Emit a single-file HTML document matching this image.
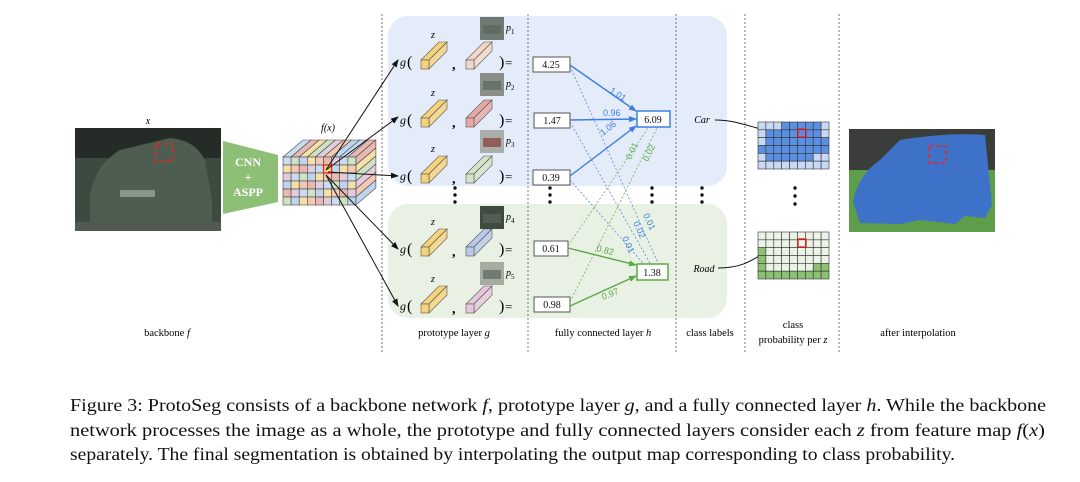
<!DOCTYPE html>
<html><head><meta charset="utf-8"><style>
html,body{margin:0;padding:0;background:#fff;}
svg{display:block;font-family:"Liberation Serif",serif;}
</style></head><body>
<svg id="s" width="1080" height="482" viewBox="0 0 1080 482" xmlns="http://www.w3.org/2000/svg">
<defs>
<marker id="ak" markerWidth="8" markerHeight="8" refX="7" refY="4" orient="auto" markerUnits="userSpaceOnUse"><path d="M0,1 L8,4 L0,7 z" fill="#111"/></marker>
<marker id="ab" markerWidth="8" markerHeight="8" refX="7" refY="4" orient="auto" markerUnits="userSpaceOnUse"><path d="M0,1 L8,4 L0,7 z" fill="#3f7ee0"/></marker>
<marker id="ag" markerWidth="8" markerHeight="8" refX="7" refY="4" orient="auto" markerUnits="userSpaceOnUse"><path d="M0,1 L8,4 L0,7 z" fill="#5ca845"/></marker>
</defs>
<!-- panels -->
<rect x="388" y="16" width="339" height="170" rx="20" fill="#e3ecf8"/>
<rect x="388" y="204" width="339" height="114" rx="20" fill="#e8f1e4"/>
<!-- dashed separators -->
<g stroke="#555" stroke-width="0.8" stroke-dasharray="2,2">
<line x1="382" y1="14" x2="382" y2="352"/><line x1="528" y1="14" x2="528" y2="352"/>
<line x1="676" y1="14" x2="676" y2="352"/><line x1="745" y1="14" x2="745" y2="352"/>
<line x1="839" y1="14" x2="839" y2="352"/>
</g>
<!-- input image -->
<text x="148" y="124" font-size="10" font-style="italic" text-anchor="middle">x</text>
<rect x="75" y="128" width="146" height="103" fill="#3d4a3f"/>
<rect x="75" y="128" width="146" height="30" fill="#252b26"/>
<path d="M90,195 Q95,165 120,150 L170,138 Q195,140 205,160 L212,200 L212,222 L90,222 z" fill="#4e5d50"/>
<rect x="120" y="190" width="35" height="7" fill="#8a968b"/>
<rect x="75" y="222" width="146" height="9" fill="#505a50"/>
<rect x="156" y="144" width="17" height="17" fill="none" stroke="#e22" stroke-width="1.5" stroke-dasharray="4,3"/>
<!-- CNN trapezoid -->
<polygon points="223,141 278,155 278,202 223,214" fill="#8dbf76"/>
<text x="248" y="166" font-size="12" font-weight="bold" fill="#fff" text-anchor="middle">CNN</text>
<text x="248" y="181" font-size="12" font-weight="bold" fill="#fff" text-anchor="middle">+</text>
<text x="248" y="196" font-size="12" font-weight="bold" fill="#fff" text-anchor="middle">ASPP</text>
<text x="328" y="131" font-size="10" font-style="italic" text-anchor="middle">f(x)</text>
<g id="cube"></g>
<!-- arrows from cube -->
<g stroke="#111" stroke-width="1" fill="none" marker-end="url(#ak)">
<line x1="326" y1="170" x2="398" y2="60"/><line x1="326" y1="170" x2="398" y2="117"/>
<line x1="328" y1="172" x2="398" y2="176"/><line x1="326" y1="175" x2="398" y2="249"/>
<line x1="326" y1="175" x2="398" y2="306"/>
</g>
<g id="proto"></g>
<!-- vertical dots -->
<g fill="#111" id="dots"></g>
<!-- FC boxes -->
<g font-size="10" text-anchor="middle" fill="#111">
<rect x="533" y="57" width="37" height="15" fill="#fff" stroke="#555"/><text x="551" y="68">4.25</text>
<rect x="534" y="113" width="36" height="15" fill="#fff" stroke="#555"/><text x="552" y="124">1.47</text>
<rect x="533" y="170" width="37" height="15" fill="#fff" stroke="#555"/><text x="551" y="181">0.39</text>
<rect x="534" y="241" width="34" height="15" fill="#fff" stroke="#555"/><text x="551" y="252">0.61</text>
<rect x="534" y="297" width="36" height="15" fill="#fff" stroke="#555"/><text x="552" y="308">0.98</text>
<rect x="637" y="111" width="33" height="16" fill="#fff" stroke="#3f7ee0" stroke-width="1.5"/><text x="653" y="123">6.09</text>
<rect x="637" y="264" width="31" height="16" fill="#fff" stroke="#5ca845" stroke-width="1.5"/><text x="652" y="276">1.38</text>
</g>
<!-- connections -->
<g stroke="#3f7ee0" stroke-width="1.4" fill="none" marker-end="url(#ab)">
<line x1="570" y1="65" x2="636" y2="111"/><line x1="570" y1="120" x2="636" y2="119"/><line x1="570" y1="176" x2="636" y2="126"/>
</g>
<g stroke="#3f7ee0" stroke-width="0.7" stroke-dasharray="2,2" fill="none">
<line x1="570" y1="66" x2="658" y2="263"/><line x1="570" y1="122" x2="650" y2="263"/><line x1="570" y1="180" x2="643" y2="263"/>
</g>
<g stroke="#5ca845" stroke-width="1.4" fill="none" marker-end="url(#ag)">
<line x1="568" y1="248" x2="636" y2="265"/><line x1="570" y1="306" x2="636" y2="276"/>
</g>
<g stroke="#5ca845" stroke-width="0.7" stroke-dasharray="2,2" fill="none">
<line x1="568" y1="246" x2="648" y2="128"/><line x1="570" y1="302" x2="657" y2="128"/>
</g>
<g font-size="9" font-family="Liberation Sans,sans-serif">
<text x="609" y="92" fill="#3f7ee0" transform="rotate(33 609 92)">1.01</text>
<text x="603" y="116" fill="#3f7ee0">0.96</text>
<text x="603" y="136" fill="#3f7ee0" transform="rotate(-38 603 136)">1.06</text>
<text x="631" y="160" fill="#5ca845" transform="rotate(-65 631 160)">0.01</text>
<text x="648" y="162" fill="#5ca845" transform="rotate(-65 648 162)">0.02</text>
<text x="622" y="238" fill="#3f7ee0" transform="rotate(65 622 238)">0.01</text>
<text x="633" y="223" fill="#3f7ee0" transform="rotate(65 633 223)">0.02</text>
<text x="643" y="215" fill="#3f7ee0" transform="rotate(65 643 215)">0.01</text>
<text x="596" y="251" fill="#5ca845" transform="rotate(14 596 251)">0.82</text>
<text x="603" y="300" fill="#5ca845" transform="rotate(-22 603 300)">0.97</text>
</g>
<!-- class labels -->
<text x="702" y="123" font-size="10" font-style="italic" text-anchor="middle">Car</text>
<text x="704" y="272" font-size="10" font-style="italic" text-anchor="middle">Road</text>
<path d="M715,120 C745,120 760,134 797,134" stroke="#111" fill="none" stroke-width="1" marker-end="url(#ak)"/>
<path d="M718,268 C760,268 760,244 797,243" stroke="#111" fill="none" stroke-width="1" marker-end="url(#ak)"/>
<g id="grids"></g>
<!-- output -->
<rect x="849" y="129" width="146" height="103" fill="#3a3d3a"/>
<rect x="849" y="170" width="146" height="62" fill="#5e9e4a"/>
<path d="M853,202 Q858,175 880,160 L900,140 Q950,132 985,135 L992,205 L985,218 L965,216 L955,224 L920,220 L900,224 L860,223 z" fill="#3d72c8"/>
<rect x="929" y="146" width="17" height="17" fill="none" stroke="#e22" stroke-width="1.5" stroke-dasharray="4,3"/>
<!-- bottom labels -->
<g font-size="10.5" text-anchor="middle">
<text x="167" y="336">backbone <tspan font-style="italic">f</tspan></text>
<text x="454" y="336">prototype layer <tspan font-style="italic">g</tspan></text>
<text x="603" y="336">fully connected layer <tspan font-style="italic">h</tspan></text>
<text x="710" y="336">class labels</text>
<text x="793" y="328">class</text>
<text x="793" y="343">probability per <tspan font-style="italic">z</tspan></text>
<text x="918" y="336">after interpolation</text>
</g>
<!-- caption -->
<g font-size="18" fill="#111">
<text x="70" y="411" textLength="976" lengthAdjust="spacingAndGlyphs">Figure 3: ProtoSeg consists of a backbone network <tspan font-style="italic">f</tspan>, prototype layer <tspan font-style="italic">g</tspan>, and a fully connected layer <tspan font-style="italic">h</tspan>. While the backbone</text>
<text x="70" y="436" textLength="975" lengthAdjust="spacingAndGlyphs">network processes the image as a whole, the prototype and fully connected layers consider each <tspan font-style="italic">z</tspan> from feature map <tspan font-style="italic">f</tspan>(<tspan font-style="italic">x</tspan>)</text>
<text x="70" y="460" textLength="885" lengthAdjust="spacingAndGlyphs">separately. The final segmentation is obtained by interpolating the output map corresponding to class probability.</text>
</g>
</svg>
<script>
var NS="http://www.w3.org/2000/svg";
function el(p,t,a,txt){var e=document.createElementNS(NS,t);for(var k in a)e.setAttribute(k,a[k]);if(txt)e.textContent=txt;p.appendChild(e);return e;}
var pal=["#c9dcf2","#e9b8b0","#f6e0a8","#cfe3c4","#e3cbe0","#f4c9b4","#bfd5ee"];
// cube
var c=document.getElementById("cube");
var fx=283,fy=157,cw=8.1,ch=8,d=20;
for(var i=0;i<9;i++){ // top
 el(c,"polygon",{points:[fx+i*cw,fy,fx+i*cw+d,fy-d*0.85,fx+(i+1)*cw+d,fy-d*0.85,fx+(i+1)*cw,fy].join(" ").replace(/(\S+) (\S+)/g,"$1,$2"),fill:pal[i%7],stroke:"#444","stroke-width":0.6});
}
for(var j=0;j<6;j++){ // side
 var sx=fx+9*cw;
 el(c,"polygon",{points:sx+","+(fy+j*ch)+" "+(sx+d)+","+(fy+j*ch-d*0.85)+" "+(sx+d)+","+(fy+(j+1)*ch-d*0.85)+" "+sx+","+(fy+(j+1)*ch),fill:pal[(j+1)%7],stroke:"#444","stroke-width":0.6});
}
for(var j=0;j<6;j++)for(var i=0;i<9;i++){
 el(c,"rect",{x:fx+i*cw,y:fy+j*ch,width:cw,height:ch,fill:pal[(i*3+j*2)%7],stroke:"#444","stroke-width":0.6});
}
el(c,"rect",{x:fx+5*cw,y:fy+1*ch,width:cw,height:ch,fill:"#f6d27a",stroke:"#e22","stroke-width":1.3});
// prototype rows
var p=document.getElementById("proto");
var rows=[62,120,176,249,306],cols=["#f2d8c8","#e6a9a3","#d6e3c9","#b8c9ec","#e7c7dc"];
var thumbs=[[480,17,"#6e7b72"],[480,73,"#8a8f8a"],[480,130,"#a9aeaa"],[480,206,"#3f4a40"],[480,262,"#a7aca2"]];
function bar(x,y,col){ // front face bottom-left at (x,y) top-left
 var w=8,h=9,dx=18,dy=-18;
 el(p,"polygon",{points:x+","+y+" "+(x+dx)+","+(y+dy)+" "+(x+w+dx)+","+(y+dy)+" "+(x+w)+","+y,fill:col,stroke:"#555","stroke-width":0.6,opacity:1});
 el(p,"polygon",{points:(x+w)+","+y+" "+(x+w+dx)+","+(y+dy)+" "+(x+w+dx)+","+(y+dy+h)+" "+(x+w)+","+(y+h),fill:col,stroke:"#555","stroke-width":0.6,"fill-opacity":0.8});
 el(p,"rect",{x:x,y:y,width:w,height:h,fill:col,stroke:"#555","stroke-width":0.6});
}
for(var r=0;r<5;r++){
 var y=rows[r];
 el(p,"text",{x:400,y:y+4,"font-size":12,"font-style":"italic"},"g");
 el(p,"text",{x:407,y:y+5,"font-size":16},"(");
 el(p,"text",{x:431,y:y-24,"font-size":10,"font-style":"italic"},"z");
 bar(421,y-2,"#f6d27a");
 el(p,"text",{x:452,y:y+7,"font-size":14,"font-weight":"bold"},",");
 bar(466,y-2,cols[r]);
 el(p,"text",{x:499,y:y+5,"font-size":16},")");
 el(p,"text",{x:505,y:y+5,"font-size":13},"=");
 var t=thumbs[r];
 el(p,"rect",{x:t[0],y:t[1],width:24,height:23,fill:t[2]});
 el(p,"rect",{x:t[0]+3,y:t[1]+8,width:18,height:9,fill:r==2?"#8a3a34":"#5a665c","fill-opacity":0.7});
 var tx=el(p,"text",{x:506,y:t[1]+14,"font-size":10,"font-style":"italic"},"p");
 el(tx,"tspan",{"font-size":7,"font-style":"normal",dy:3},String(r+1));
}
// dots
var dd=document.getElementById("dots");
[455,550,652,702,795].forEach(function(x){var ys=x==795?[188,196,204]:[188,195,202];ys.forEach(function(y){el(dd,"circle",{cx:x,cy:y,r:1.7});});});
// grids
var g=document.getElementById("grids");
function grid(x0,y0,fn){var w=71/9,h=47/6;for(var j=0;j<6;j++)for(var i=0;i<9;i++)el(g,"rect",{x:x0+i*w,y:y0+j*h,width:w,height:h,fill:fn(i,j),stroke:"#333","stroke-width":0.6});}
grid(758,122,function(i,j){var light=(j==0&&(i<3||i==8))||(j==1&&(i==0||i==8))||(j==2&&i==0)||j==5||(j==4&&(i<1||i>=7));return light?"#c8d9f5":"#5b8fe2";});
grid(758,232,function(i,j){var dark=j>=4&&!(j==4&&i>0&&i<7)||(j==2&&i==0)||(j==3&&i==0);return dark?"#8cc174":"#eaf3e6";});
el(g,"rect",{x:798,y:129,width:8,height:8,fill:"none",stroke:"#e22","stroke-width":1.3});
el(g,"rect",{x:798,y:239,width:8,height:8,fill:"none",stroke:"#e22","stroke-width":1.3});
</script>
</body></html>
